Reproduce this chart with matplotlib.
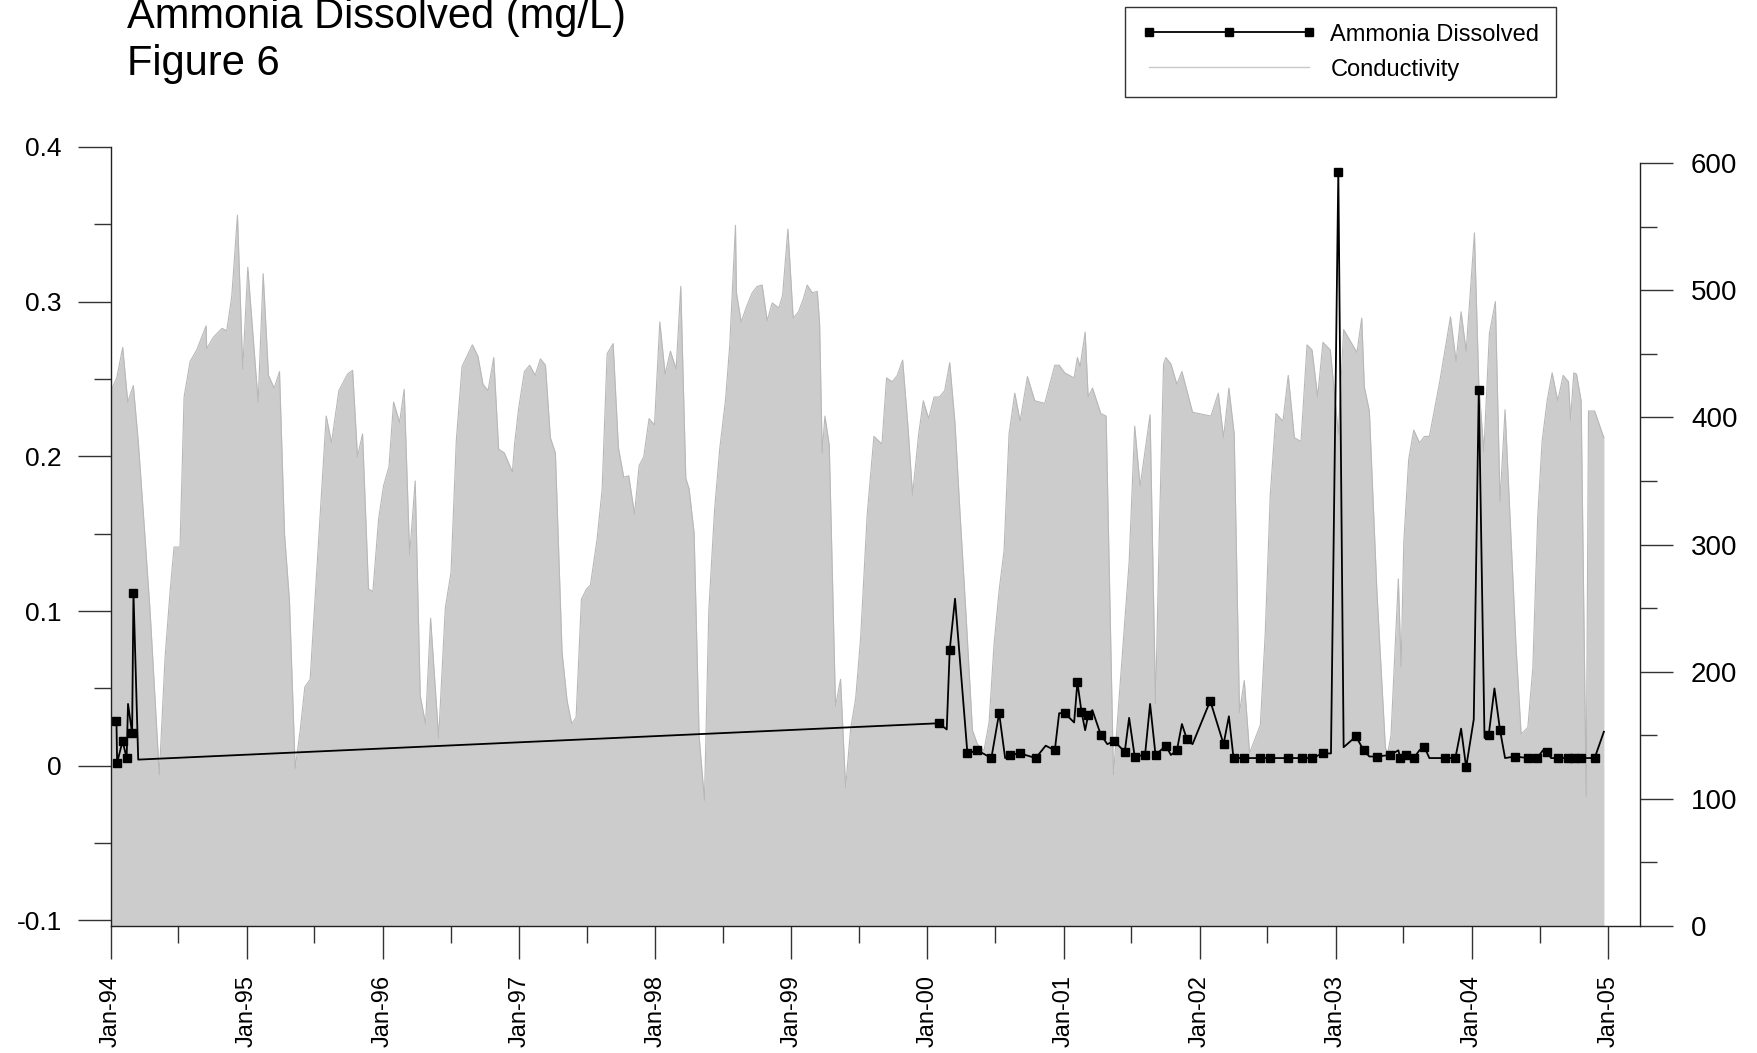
import numpy as np
import pandas as pd
import matplotlib
matplotlib.use("Agg")
import matplotlib.pyplot as plt
from matplotlib.ticker import MultipleLocator, FuncFormatter
from matplotlib.lines import Line2D
import matplotlib.dates as mdates

plt.rcParams['font.family'] = ['Liberation Sans', 'DejaVu Sans']
plt.rcParams['axes.unicode_minus'] = False

# conductivity (right axis), decimal year / value
cond_year = [
    1994.000, 1994.042, 1994.086, 1994.123, 1994.164, 1994.201, 1994.238, 1994.287,
    1994.355, 1994.397, 1994.434, 1994.463, 1994.507, 1994.537, 1994.581, 1994.630,
    1994.699, 1994.703, 1994.752, 1994.816, 1994.850, 1994.887, 1994.929, 1994.968,
    1995.005, 1995.081, 1995.118, 1995.157, 1995.199, 1995.238, 1995.275, 1995.311,
    1995.353, 1995.390, 1995.424, 1995.463, 1995.537, 1995.581, 1995.620, 1995.674,
    1995.738, 1995.775, 1995.811, 1995.848, 1995.892, 1995.924, 1995.966, 1996.002,
    1996.042, 1996.076, 1996.120, 1996.154, 1996.194, 1996.235, 1996.272, 1996.311,
    1996.348, 1996.407, 1996.456, 1996.498, 1996.537, 1996.579, 1996.655, 1996.696,
    1996.733, 1996.770, 1996.812, 1996.848, 1996.890, 1996.949, 1996.964, 1996.995,
    1997.037, 1997.076, 1997.116, 1997.155, 1997.192, 1997.228, 1997.265, 1997.314,
    1997.351, 1997.385, 1997.417, 1997.456, 1997.493, 1997.522, 1997.571, 1997.608,
    1997.645, 1997.689, 1997.728, 1997.767, 1997.804, 1997.846, 1997.880, 1997.914,
    1997.953, 1997.993, 1998.032, 1998.071, 1998.110, 1998.152, 1998.186, 1998.223,
    1998.247, 1998.284, 1998.321, 1998.360, 1998.392, 1998.434, 1998.473, 1998.515,
    1998.546, 1998.588, 1998.595, 1998.630, 1998.669, 1998.711, 1998.748, 1998.784,
    1998.821, 1998.858, 1998.907, 1998.934, 1998.973, 1999.012, 1999.051, 1999.086,
    1999.115, 1999.152, 1999.189, 1999.206, 1999.225, 1999.245, 1999.277, 1999.323,
    1999.360, 1999.397, 1999.434, 1999.471, 1999.507, 1999.556, 1999.605, 1999.664,
    1999.698, 1999.740, 1999.777, 1999.816, 1999.855, 1999.889, 1999.934, 1999.968,
    2000.007, 2000.047, 2000.086, 2000.125, 2000.162, 2000.201, 2000.238, 2000.280,
    2000.329, 2000.365, 2000.414, 2000.451, 2000.488, 2000.525, 2000.561, 2000.598,
    2000.640, 2000.679, 2000.733, 2000.787, 2000.860, 2000.934, 2000.966, 2001.007,
    2001.076, 2001.100, 2001.120, 2001.157, 2001.179, 2001.211, 2001.272, 2001.311,
    2001.365, 2001.443, 2001.480, 2001.521, 2001.561, 2001.634, 2001.674, 2001.701,
    2001.733, 2001.750, 2001.787, 2001.831, 2001.868, 2001.946, 2002.081, 2002.135,
    2002.174, 2002.213, 2002.252, 2002.291, 2002.326, 2002.365, 2002.444, 2002.480,
    2002.517, 2002.559, 2002.610, 2002.649, 2002.694, 2002.743, 2002.787, 2002.824,
    2002.865, 2002.904, 2002.958, 2003.017, 2003.056, 2003.154, 2003.189, 2003.208,
    2003.245, 2003.301, 2003.363, 2003.380, 2003.404, 2003.458, 2003.478, 2003.498,
    2003.534, 2003.571, 2003.613, 2003.650, 2003.686, 2003.762, 2003.841, 2003.882,
    2003.919, 2003.956, 2004.017, 2004.049, 2004.086, 2004.127, 2004.171, 2004.205,
    2004.242, 2004.323, 2004.360, 2004.409, 2004.446, 2004.482, 2004.514, 2004.551,
    2004.588, 2004.629, 2004.669, 2004.708, 2004.723, 2004.747, 2004.767, 2004.801,
    2004.838, 2004.855, 2004.900, 2004.968,
]
cond_value = [
    421, 431, 455, 412, 425, 380, 324, 248,
    119, 211, 263, 298, 298, 416, 444, 453,
    472, 454, 463, 470, 468, 495, 559, 438,
    518, 412, 513, 433, 423, 436, 308, 256,
    124, 154, 188, 194, 324, 401, 380, 421,
    434, 437, 369, 387, 265, 263, 320, 346,
    361, 412, 396, 422, 292, 350, 181, 159,
    242, 148, 250, 278, 382, 440, 457, 448,
    426, 421, 447, 375, 372, 357, 378, 407,
    436, 441, 433, 446, 441, 384, 372, 215,
    177, 159, 164, 257, 265, 268, 304, 343,
    450, 458, 376, 353, 354, 324, 362, 369,
    399, 394, 475, 434, 452, 438, 503, 352,
    344, 309, 149, 99, 248, 327, 376, 414,
    457, 551, 498, 475, 487, 498, 503, 504,
    476, 490, 486, 496, 548, 478, 483, 493,
    504, 498, 499, 474, 372, 401, 378, 173,
    194, 109, 155, 179, 226, 324, 385, 379,
    431, 428, 433, 445, 393, 339, 387, 413,
    399, 416, 416, 421, 443, 395, 324, 248,
    154, 143, 138, 160, 222, 264, 295, 387,
    419, 397, 432, 413, 411, 441, 441, 435,
    431, 447, 440, 467, 416, 423, 403, 401,
    119, 233, 286, 393, 346, 402, 175, 305,
    442, 447, 442, 426, 436, 404, 401, 419,
    384, 423, 387, 168, 193, 136, 158, 230,
    339, 403, 397, 433, 384, 381, 457, 453,
    416, 459, 453, 387, 469, 451, 478, 424,
    405, 262, 140, 136, 150, 273, 204, 302,
    367, 390, 380, 385, 385, 428, 479, 444,
    483, 452, 545, 426, 373, 466, 491, 334,
    406, 219, 151, 156, 203, 322, 381, 413,
    435, 413, 433, 428, 398, 435, 434, 413,
    102, 405, 405, 384,
]

# ammonia dissolved (left axis); marked = 1 where a square marker is drawn
amm_year = [
    1994.040, 1994.045, 1994.085, 1994.115, 1994.125, 1994.155, 1994.165, 1994.200,
    2000.083, 2000.140, 2000.162, 2000.201, 2000.292, 2000.365, 2000.468, 2000.525,
    2000.569, 2000.605, 2000.679, 2000.794, 2000.867, 2000.934, 2000.966, 2001.007,
    2001.076, 2001.100, 2001.130, 2001.157, 2001.180, 2001.210, 2001.272, 2001.320,
    2001.370, 2001.448, 2001.480, 2001.521, 2001.597, 2001.634, 2001.674, 2001.750,
    2001.787, 2001.831, 2001.868, 2001.905, 2001.946, 2002.076, 2002.174, 2002.213,
    2002.247, 2002.326, 2002.439, 2002.517, 2002.649, 2002.748, 2002.826, 2002.902,
    2002.963, 2003.017, 2003.056, 2003.147, 2003.203, 2003.245, 2003.301, 2003.399,
    2003.458, 2003.473, 2003.517, 2003.571, 2003.613, 2003.650, 2003.686, 2003.804,
    2003.877, 2003.919, 2003.956, 2004.012, 2004.049, 2004.091, 2004.122, 2004.164,
    2004.205, 2004.242, 2004.316, 2004.409, 2004.478, 2004.520, 2004.551, 2004.580,
    2004.629, 2004.703, 2004.752, 2004.801, 2004.900, 2004.968,
]
amm_value = [
    0.029, 0.002, 0.016, 0.005, 0.040, 0.021, 0.112, 0.004,
    0.0275, 0.0235, 0.075, 0.108, 0.008, 0.010, 0.005, 0.034,
    0.005, 0.007, 0.008, 0.005, 0.013, 0.010, 0.034, 0.034,
    0.028, 0.054, 0.035, 0.023, 0.033, 0.036, 0.020, 0.014,
    0.016, 0.009, 0.031, 0.006, 0.007, 0.040, 0.007, 0.013,
    0.007, 0.010, 0.027, 0.017, 0.014, 0.042, 0.014, 0.032,
    0.005, 0.005, 0.005, 0.005, 0.005, 0.005, 0.005, 0.008,
    0.008, 0.384, 0.012, 0.019, 0.010, 0.006, 0.006, 0.007,
    0.010, 0.005, 0.007, 0.005, 0.010, 0.012, 0.005, 0.005,
    0.005, 0.024, -0.001, 0.030, 0.243, 0.018, 0.020, 0.050,
    0.023, 0.005, 0.006, 0.005, 0.005, 0.010, 0.009, 0.005,
    0.005, 0.005, 0.005, 0.005, 0.005, 0.022,
]
amm_marked = [
    1, 1, 1, 1, 0, 1, 1, 0,
    1, 0, 1, 0, 1, 1, 1, 1,
    0, 1, 1, 1, 0, 1, 0, 1,
    0, 1, 1, 0, 1, 0, 1, 0,
    1, 1, 0, 1, 1, 0, 1, 1,
    0, 1, 0, 1, 0, 1, 1, 0,
    1, 1, 1, 1, 1, 1, 1, 1,
    0, 1, 0, 1, 1, 0, 1, 1,
    0, 1, 1, 1, 0, 1, 0, 1,
    1, 0, 1, 0, 1, 0, 1, 0,
    1, 0, 1, 1, 1, 0, 1, 0,
    1, 1, 1, 1, 1, 0,
]

year_labels = ['Jan-94', 'Jan-95', 'Jan-96', 'Jan-97', 'Jan-98', 'Jan-99',
               'Jan-00', 'Jan-01', 'Jan-02', 'Jan-03', 'Jan-04', 'Jan-05']


def to_dates(years):
    years = np.asarray(years, dtype=float)
    return pd.Timestamp('1994-01-01') + pd.to_timedelta((years - 1994) * 365.25, unit='D')


cond_dates = to_dates(cond_year)
amm_dates = to_dates(amm_year)
marker_idx = [i for i, m in enumerate(amm_marked) if m]

fig = plt.figure(figsize=(17.58, 10.53), dpi=100)
ax = fig.add_axes([0.06314, 0.12061, 0.86974, 0.73979])
ax2 = ax.twinx()
ax.set_zorder(ax2.get_zorder() + 1)
ax.patch.set_visible(False)

# conductivity area
ax2.fill_between(cond_dates, cond_value, 0, color='#cccccc', lw=0)
ax2.plot(cond_dates, cond_value, color='#b8b8b8', lw=0.8)

# ammonia line
ax.plot(amm_dates, amm_value, color='black', lw=1.3, marker='s', ms=6,
        markevery=marker_idx)

ax.set_xlim(pd.Timestamp('1994-01-01'), pd.Timestamp('2005-03-27'))
ax.set_ylim(-0.10356, 0.4)
ax2.set_ylim(0, 612.6)

# tick lengths/pads in points (dpi 100 -> 1pt = 1.39px)
tick_col = '#333333'
major_len, minor_len = 24, 12.2
ax.xaxis.set_minor_locator(mdates.MonthLocator(bymonth=7))
ax.set_xticks(pd.to_datetime([f'{y}-01-01' for y in range(1994, 2006)]))
ax.set_xticklabels(year_labels, rotation=90)
ax.tick_params(axis='x', which='major', length=major_len, width=1, pad=11,
               labelsize=17, color=tick_col)
ax.tick_params(axis='x', which='minor', length=minor_len, width=1, color=tick_col)

ax.yaxis.set_major_locator(MultipleLocator(0.1))
ax.yaxis.set_minor_locator(MultipleLocator(0.05))
ax.yaxis.set_major_formatter(FuncFormatter(lambda v, p: '0' if abs(v) < 1e-9 else f'{v:g}'))
ax.tick_params(axis='y', which='major', length=major_len, width=1, pad=11.5,
               labelsize=19, color=tick_col)
ax.tick_params(axis='y', which='minor', length=minor_len, width=1, color=tick_col)

ax2.yaxis.set_major_locator(MultipleLocator(100))
ax2.yaxis.set_minor_locator(MultipleLocator(50))
ax2.tick_params(axis='y', which='major', length=major_len, width=1, pad=12.8,
                labelsize=20, color=tick_col)
ax2.tick_params(axis='y', which='minor', length=minor_len, width=1, color=tick_col)

for s in ['top', 'right']:
    ax.spines[s].set_visible(False)
for s in ['top', 'left', 'bottom']:
    ax2.spines[s].set_visible(False)
ax2.spines['right'].set_bounds(0, 600)
for sp in [ax.spines['left'], ax.spines['bottom'], ax2.spines['right']]:
    sp.set_color('#222222')
    sp.set_linewidth(1)

fig.text(127 / 1758, 1 - 28 / 1053, 'Ammonia Dissolved (mg/L)', fontsize=30, va='baseline')
fig.text(127 / 1758, 1 - 75 / 1053, 'Figure 6', fontsize=30, va='baseline')

handles = [
    Line2D([], [], color='black', lw=1.3, marker='s', ms=6),
    Line2D([], [], color='#c8c8c8', lw=1),
]
leg = fig.legend(handles, ['Ammonia Dissolved', 'Conductivity'],
                 loc='upper left', bbox_to_anchor=(1125 / 1758, 1 - 7 / 1053),
                 bbox_transform=fig.transFigure, fontsize=17, numpoints=3,
                 handlelength=7.4, handletextpad=0.6, labelspacing=0.55,
                 borderpad=0.7, borderaxespad=0, fancybox=False, frameon=True)
leg.get_frame().set_edgecolor('black')
leg.get_frame().set_linewidth(1)

fig.savefig('out.png', dpi=100)
